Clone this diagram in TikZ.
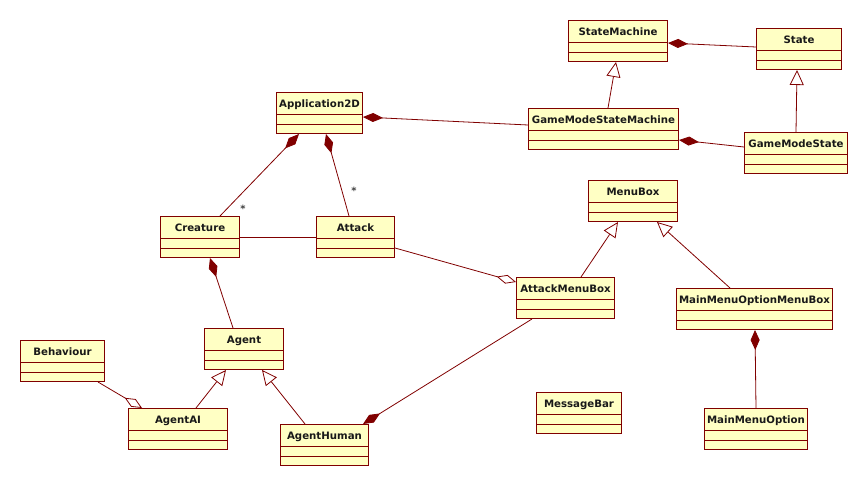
\documentclass[tikz,border=0pt]{standalone}
\usepackage{fontspec}
\setmainfont{DejaVu Sans}
\usetikzlibrary{arrows.meta}
\definecolor{umlfill}{RGB}{255,255,196}
\definecolor{umlline}{RGB}{128,0,0}
\tikzset{
  cls/.style={draw=umlline, fill=umlfill, line width=1pt, anchor=north west,
    inner sep=0pt, text height=15pt, text depth=26pt, font=\fontsize{10.2}{12}\selectfont\bfseries,
    text=black!90,
    path picture={
      \draw[umlline, line width=1pt] ([yshift=-22pt]path picture bounding box.north west) -- ([yshift=-22pt]path picture bounding box.north east);
      \draw[umlline, line width=1pt] ([yshift=-32pt]path picture bounding box.north west) -- ([yshift=-32pt]path picture bounding box.north east);
    }},
  conn/.style={draw=umlline, line width=0.8pt},
  comp/.style={conn, {Diamond[length=20pt,width=9pt,fill=umlline]}-},
  agg/.style={conn, {Diamond[open,length=20pt,width=9pt,fill=white]}-},
  gen/.style={conn, -{Triangle[open,length=15pt,width=14pt,fill=white]}},
  mult/.style={font=\fontsize{10}{11}\selectfont\bfseries, text=black!75, inner sep=0pt},
}
\begin{document}
\begin{tikzpicture}[x=1pt,y=-1pt]
\useasboundingbox (0,0) rectangle (868,486);
% classes
\node[cls, minimum width=99pt] (sm) at (568,20) {StateMachine};
\node[cls, minimum width=85pt] (st) at (756,28) {State};
\node[cls, minimum width=150pt] (gmsm) at (528,108) {GameModeStateMachine};
\node[cls, minimum width=103pt] (gms) at (744,132) {GameModeState};
\node[cls, minimum width=86pt] (app) at (276,92) {Application2D};
\node[cls, minimum width=79pt] (cre) at (160,216) {Creature};
\node[cls, minimum width=78pt] (att) at (316,216) {Attack};
\node[cls, minimum width=89pt] (mb) at (588,180) {MenuBox};
\node[cls, minimum width=98pt] (amb) at (516,277) {AttackMenuBox};
\node[cls, minimum width=156pt] (mmomb) at (676,288) {MainMenuOptionMenuBox};
\node[cls, minimum width=85pt] (msg) at (536,392) {MessageBar};
\node[cls, minimum width=103pt] (mmo) at (704,408) {MainMenuOption};
\node[cls, minimum width=84pt] (beh) at (20,340) {Behaviour};
\node[cls, minimum width=79pt] (ag) at (204,328) {Agent};
\node[cls, minimum width=99pt] (ai) at (128,408) {AgentAI};
\node[cls, minimum width=88pt] (hu) at (280,424) {AgentHuman};
% connectors
\draw[comp] ([yshift=-23pt]sm.north east) -- ([yshift=-19pt]st.north west);
\draw[gen] ([xshift=80pt]gmsm.north west) -- ([xshift=48pt]sm.south west);
\draw[gen] ([xshift=52pt]gms.north west) -- ([xshift=41pt]st.south west);
\draw[comp] ([yshift=-32pt]gmsm.north east) -- ([yshift=-15pt]gms.north west);
\draw[comp] ([yshift=-25pt]app.north east) -- ([yshift=-17pt]gmsm.north west);
\draw[comp] ([xshift=23pt]app.south west) -- ([xshift=60pt]cre.north west);
\node[mult] (m1) at (243,209) {*};
\draw[comp] ([xshift=50pt]app.south west) -- ([xshift=33pt]att.north west);
\node[mult] (m2) at (354,191) {*};
\draw[conn] ([yshift=-21pt]cre.north east) -- ([yshift=-21pt]att.north west);
\draw[agg] ([yshift=-5pt]amb.north west) -- ([yshift=-32pt]att.north east);
\draw[gen] ([xshift=65pt]amb.north west) -- ([xshift=30pt]mb.south west);
\draw[gen] ([xshift=54pt]mmomb.north west) -- ([xshift=69pt]mb.south west);
\draw[comp] ([xshift=79pt]mmomb.south west) -- ([xshift=52pt]mmo.north west);
\draw[comp] ([xshift=50pt]cre.south west) -- ([xshift=29pt]ag.north west);
\draw[gen] ([xshift=68pt]ai.north west) -- ([xshift=22pt]ag.south west);
\draw[gen] ([xshift=25pt]hu.north west) -- ([xshift=58pt]ag.south west);
\draw[agg] ([xshift=14pt]ai.north west) -- ([xshift=78pt]beh.south west);
\draw[comp] ([xshift=83pt]hu.north west) -- ([xshift=16pt]amb.south west);
\end{tikzpicture}
\end{document}
